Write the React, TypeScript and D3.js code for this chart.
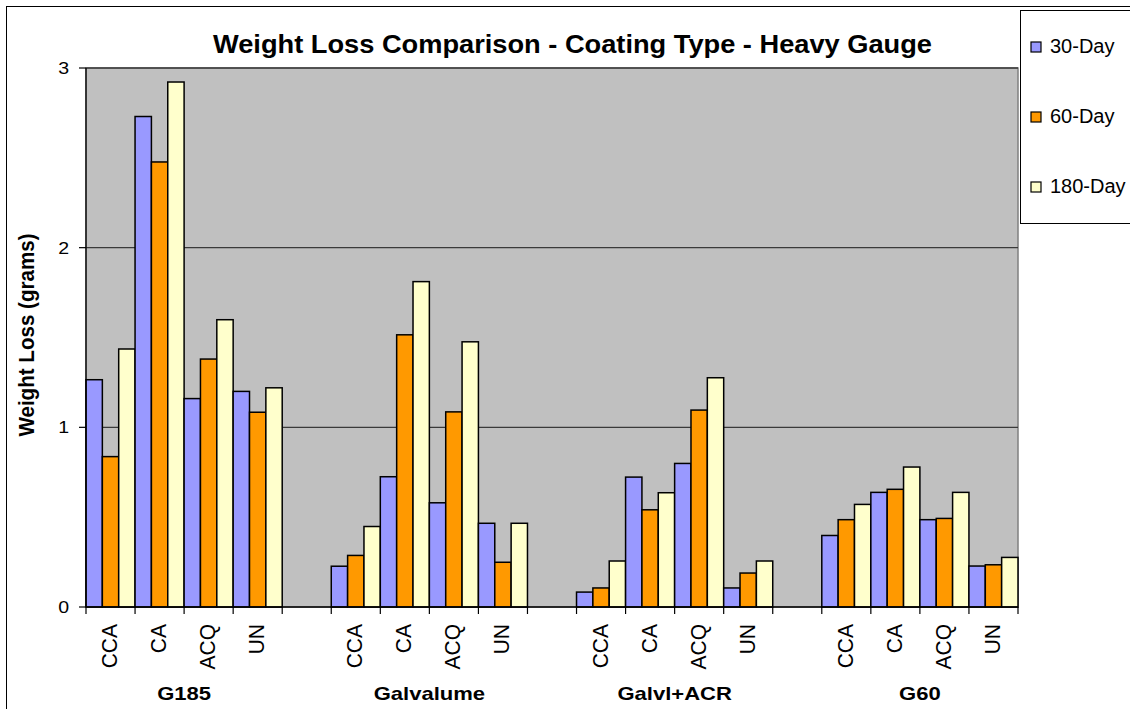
import React from "react";
import * as d3 from "d3";

const groups = ["G185", "Galvalume", "Galvl+ACR", "G60"];
const coatings = ["CCA", "CA", "ACQ", "UN"];
const seriesNames = ["30-Day", "60-Day", "180-Day"];
const day30 = [1.265, 2.73, 1.16, 1.2, 0.227, 0.725, 0.58, 0.466, 0.083, 0.723, 0.799, 0.106, 0.398, 0.638, 0.486, 0.228];
const day60 = [0.837, 2.477, 1.38, 1.084, 0.287, 1.515, 1.086, 0.249, 0.106, 0.541, 1.096, 0.189, 0.486, 0.655, 0.493, 0.235];
const day180 = [1.436, 2.922, 1.599, 1.22, 0.448, 1.811, 1.476, 0.466, 0.256, 0.636, 1.276, 0.256, 0.571, 0.779, 0.638, 0.276];
const yTicks = [0, 1, 2, 3];
const colors = ["#9999FF", "#FF9900", "#FFFFCC"];

const W = 1130;
const H = 709;
const plot = { left: 86, right: 1018, top: 68, bottom: 607 };
const FONT = "Liberation Sans, Arial, Helvetica, sans-serif";

type Slot = { key: string; group: number; coating: number | null };

const slots: Slot[] = [];
groups.forEach((g, gi) => {
  coatings.forEach((c, ci) => slots.push({ key: `${g}|${c}`, group: gi, coating: ci }));
  if (gi < groups.length - 1) slots.push({ key: `${g}|blank`, group: gi, coating: null });
});

const series = [day30, day60, day180];

export default function App() {
  const x = d3
    .scaleBand<string>()
    .domain(slots.map((s) => s.key))
    .range([plot.left, plot.right])
    .paddingInner(0)
    .paddingOuter(0);
  const xs = d3
    .scaleBand<string>()
    .domain(seriesNames)
    .range([0, x.bandwidth()])
    .padding(0);
  const y = d3.scaleLinear().domain([0, 3]).range([plot.bottom, plot.top]);

  const bars: JSX.Element[] = [];
  slots.forEach((s) => {
    if (s.coating === null) return;
    const idx = s.group * coatings.length + s.coating;
    seriesNames.forEach((name, si) => {
      const v = series[si][idx];
      const x0 = (x(s.key) as number) + (xs(name) as number);
      bars.push(
        <rect
          key={`${s.key}-${name}`}
          x={x0}
          y={y(v)}
          width={xs.bandwidth()}
          height={y(0) - y(v)}
          fill={colors[si]}
          stroke="#000"
          strokeWidth={1.5}
        />
      );
    });
  });

  const boundaries = d3.range(slots.length + 1).map((i) => plot.left + i * x.step());

  return (
    <svg
      width={W}
      height={H}
      style={{ position: "absolute", left: 0, top: 0, background: "#fff" }}
      fontFamily={FONT}
    >
      <rect x={0} y={0} width={W} height={H} fill="#fff" />
      <rect x={6.5} y={6.5} width={1200} height={800} fill="none" stroke="#000" strokeWidth={1} />

      {/* plot area */}
      <rect
        x={plot.left}
        y={plot.top}
        width={plot.right - plot.left}
        height={plot.bottom - plot.top}
        fill="#C0C0C0"
        stroke="#808080"
        strokeWidth={1.5}
      />
      {yTicks
        .filter((t) => t > 0)
        .map((t) => (
          <line
            key={`g${t}`}
            x1={plot.left}
            x2={plot.right}
            y1={y(t)}
            y2={y(t)}
            stroke="#3a3a3a"
            strokeWidth={1.3}
          />
        ))}

      {bars}

      {/* axes */}
      <line x1={plot.left} x2={plot.left} y1={plot.top} y2={plot.bottom} stroke="#000" strokeWidth={1.3} />
      <line x1={plot.left} x2={plot.right} y1={plot.bottom} y2={plot.bottom} stroke="#000" strokeWidth={1.3} />
      {yTicks.map((t) => (
        <g key={`yt${t}`}>
          <line x1={plot.left - 7} x2={plot.left} y1={y(t)} y2={y(t)} stroke="#000" strokeWidth={1.2} />
          <text
            transform={`translate(${plot.left - 17},${y(t) + 6}) scale(1.15,1)`}
            textAnchor="end"
            fontSize={17}
            fill="#000"
          >
            {t}
          </text>
        </g>
      ))}
      {boundaries.map((bx, i) => (
        <line key={`xt${i}`} x1={bx} x2={bx} y1={plot.bottom} y2={plot.bottom + 7} stroke="#000" strokeWidth={1.2} />
      ))}

      {/* category labels */}
      {slots
        .filter((s) => s.coating !== null)
        .map((s) => {
          const cx = (x(s.key) as number) + x.bandwidth() / 2;
          return (
            <text
              key={`cl${s.key}`}
              transform={`translate(${cx + 6.5},624) scale(1.08,1) rotate(-90)`}
              textAnchor="end"
              fontSize={21}
              fill="#000"
            >
              {coatings[s.coating as number]}
            </text>
          );
        })}

      {/* group labels */}
      {groups.map((g, gi) => {
        const first = x(`${g}|${coatings[0]}`) as number;
        const last = (x(`${g}|${coatings[coatings.length - 1]}`) as number) + x.bandwidth();
        return (
          <text
            key={`gl${g}`}
            transform={`translate(${(first + last) / 2},700) scale(1.16,1)`}
            textAnchor="middle"
            fontSize={19}
            fontWeight="bold"
            fill="#000"
          >
            {g}
          </text>
        );
      })}

      {/* title */}
      <text
        transform="translate(572.5,53) scale(1.09,1)"
        textAnchor="middle"
        fontSize={25}
        fontWeight="bold"
        fill="#000"
      >
        Weight Loss Comparison - Coating Type - Heavy Gauge
      </text>

      {/* y axis title */}
      <text
        transform="translate(33.5,335) scale(1.1,1) rotate(-90)"
        textAnchor="middle"
        fontSize={20.6}
        fontWeight="bold"
        fill="#000"
      >
        Weight Loss (grams)
      </text>

      {/* legend */}
      <rect x={1020.5} y={10.5} width={200} height={213} fill="#fff" stroke="#000" strokeWidth={1} />
      {seriesNames.map((name, si) => (
        <g key={`lg${name}`}>
          <rect
            x={1031}
            y={42 + si * 70}
            width={10}
            height={10}
            fill={colors[si]}
            stroke="#000"
            strokeWidth={1.2}
          />
          <text x={1050} y={52.5 + si * 70} fontSize={20} fill="#000">
            {name}
          </text>
        </g>
      ))}
    </svg>
  );
}
